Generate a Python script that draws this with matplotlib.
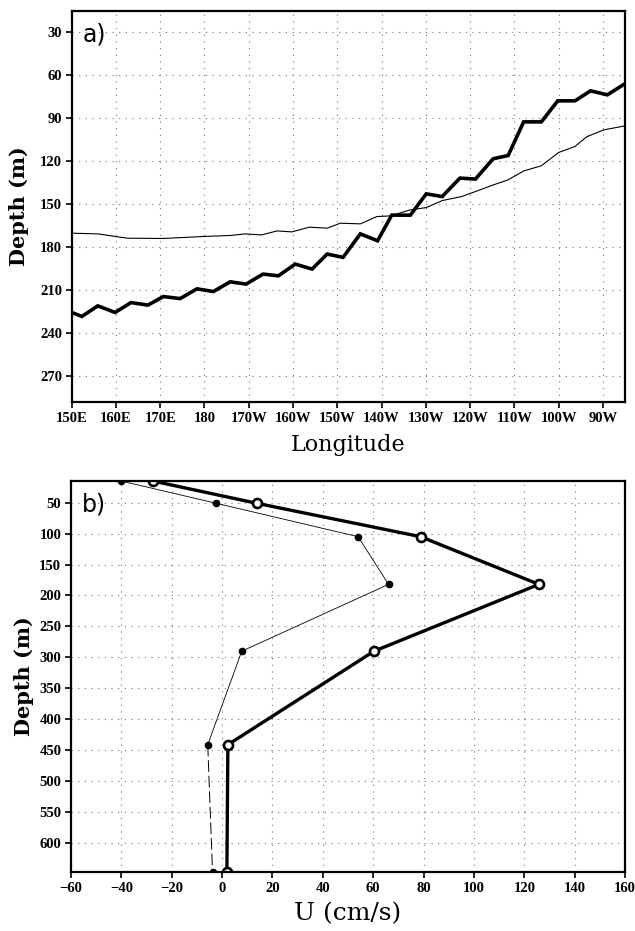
import matplotlib
matplotlib.use("Agg")
import matplotlib.pyplot as plt

# panel a: depth vs longitude (deg E)
lon_thick = [150.0, 152.3, 155.9, 159.8, 163.4, 167.2, 170.7, 174.5, 178.3, 182.0,
             185.8, 189.4, 193.2, 196.7, 200.5, 204.3, 207.7, 211.3, 215.2, 219.1,
             222.3, 226.5, 230.1, 233.7, 237.7, 241.2, 245.2, 248.6, 252.1, 256.1,
             259.8, 263.7, 267.2, 271.0, 275.0]
dep_thick = [225.9, 228.7, 221.3, 225.9, 219.0, 220.8, 214.8, 216.2, 209.4, 211.3,
             204.5, 206.1, 199.1, 200.3, 192.1, 195.6, 185.1, 187.4, 171.0, 175.8,
             157.9, 157.9, 143.0, 144.9, 132.0, 132.7, 118.5, 116.2, 92.7, 92.7,
             78.0, 78.0, 71.0, 73.8, 66.0]

lon_thin = [150.0, 156.0, 160.9, 162.7, 170.7, 179.8, 185.8, 189.2, 192.9, 196.4,
            199.7, 203.7, 207.7, 210.7, 215.2, 218.9, 222.0, 226.5, 230.1, 233.7,
            238.1, 241.2, 245.3, 248.6, 252.2, 256.1, 260.0, 263.7, 266.4, 270.2, 275.0]
dep_thin = [170.5, 171.0, 173.3, 174.0, 174.2, 172.8, 172.1, 171.0, 171.7, 168.9,
            169.6, 166.3, 167.0, 163.5, 164.0, 158.9, 158.4, 154.2, 152.6, 147.7,
            144.9, 141.4, 136.7, 133.2, 126.9, 123.4, 114.1, 109.9, 103.0, 98.3, 95.5]

lon_ticks = [150, 160, 170, 180, 190, 200, 210, 220, 230, 240, 250, 260, 270]
lon_labels = ['150E', '160E', '170E', '180', '170W', '160W', '150W', '140W',
              '130W', '120W', '110W', '100W', '90W']
dep_ticks_a = [30, 60, 90, 120, 150, 180, 210, 240, 270]

# panel b: U profile
depth_b = [15, 51, 105, 182, 290, 441, 647]
u_thick = [-27.6, 13.7, 78.8, 125.8, 60.3, 2.3, 1.9]
u_thin = [-40.2, -2.4, 54.0, 66.1, 7.8, -5.7, -3.8]
u_ticks = [-60, -40, -20, 0, 20, 40, 60, 80, 100, 120, 140, 160]
dep_ticks_b = [50, 100, 150, 200, 250, 300, 350, 400, 450, 500, 550, 600]

tickfont = {'family': 'Liberation Serif', 'weight': 'bold', 'size': 10.5}

fig = plt.figure(figsize=(6.35, 9.31), dpi=100)
ax1 = fig.add_axes([0.1129, 0.5682, 0.8714, 0.4203])
ax2 = fig.add_axes([0.1118, 0.0631, 0.8725, 0.4203])

def style(ax):
    ax.grid(True, color='0.45', linestyle=(0, (1, 5)), linewidth=0.8)
    ax.tick_params(direction='out', length=4, width=1.2, pad=3)
    for s in ax.spines.values():
        s.set_linewidth(1.6)
    for lab in ax.get_xticklabels() + ax.get_yticklabels():
        lab.set_fontfamily(tickfont['family'])
        lab.set_fontweight(tickfont['weight'])
        lab.set_fontsize(tickfont['size'])

ax1.plot(lon_thick, dep_thick, color='black', lw=2.6, solid_joinstyle='miter')
ax1.plot(lon_thin, dep_thin, color='black', lw=0.8)
ax1.set_xlim(150, 275)
ax1.set_ylim(288.5, 15)
ax1.set_xticks(lon_ticks)
ax1.set_xticklabels(lon_labels)
ax1.set_yticks(dep_ticks_a)
style(ax1)
ax1.set_xlabel('Longitude', family='DejaVu Serif', fontsize=16, labelpad=7)
ax1.set_ylabel('Depth (m)', family='DejaVu Serif', fontsize=15, fontweight='bold', labelpad=8)
ax1.text(0.02, 0.97, 'a)', transform=ax1.transAxes, family='DejaVu Sans',
         fontsize=17, va='top', ha='left')

ax2.plot(u_thin[:-1], depth_b[:-1], color='black', lw=0.6, marker='o', ms=4.5,
         mfc='black', mec='black')
ax2.plot(u_thin[-2:], depth_b[-2:], color='black', lw=0.7, ls=(0, (12, 4)),
         marker='o', ms=4.5, mfc='black', mec='black', markevery=[1])
ax2.plot(u_thick, depth_b, color='black', lw=2.4, marker='o', ms=6.5,
         mfc='white', mec='black', mew=1.9)
ax2.set_xlim(-60, 160)
ax2.set_ylim(647, 15)
ax2.set_xticks(u_ticks)
ax2.set_yticks(dep_ticks_b)
style(ax2)
ax2.set_xlabel('U (cm/s)', family='DejaVu Serif', fontsize=18, labelpad=5)
ax2.set_ylabel('Depth (m)', family='DejaVu Serif', fontsize=15, fontweight='bold', labelpad=4)
ax2.text(0.02, 0.97, 'b)', transform=ax2.transAxes, family='DejaVu Sans',
         fontsize=17, va='top', ha='left')

fig.savefig('out.png', dpi=100)
